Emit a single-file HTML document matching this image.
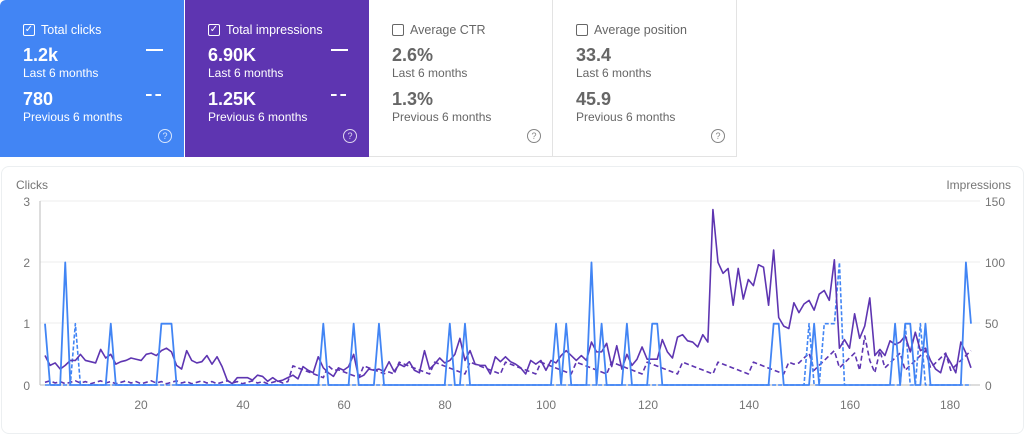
<!DOCTYPE html>
<html><head><meta charset="utf-8"><style>
body{margin:0;width:1024px;height:435px;background:#fff;font-family:"Liberation Sans",sans-serif;overflow:hidden;position:relative}
.card{position:absolute;top:0;height:157px;width:184px;box-sizing:border-box;padding:22px 0 0 23px}
.c1{left:0;background:#4285f4;color:#fff;border-radius:6px 0 0 0}
.c2{left:185px;background:#5e35b1;color:#fff}
.c3{left:369px;color:#666;border-right:1px solid #e3e3e3;border-bottom:1px solid #e3e3e3;width:184px}
.c4{left:553px;color:#666;border-right:1px solid #e3e3e3;border-bottom:1px solid #e3e3e3;width:184px}
.t{font-size:12.5px;display:flex;align-items:center;height:16px}
.cb{width:10px;height:10px;border:1px solid currentColor;border-radius:2px;margin-right:6px;font-size:10px;line-height:10px;text-align:center}
.v{font-size:18px;font-weight:bold;margin-top:7px;height:20px}
.s{font-size:12px;margin-top:1px}
.v2{margin-top:9px}
.ln{position:absolute;left:146px;width:17px;height:2px;background:currentColor}
.q{position:absolute;left:158px;top:129px;width:12px;height:12px;border:1.3px solid currentColor;border-radius:50%;font-size:9px;text-align:center;line-height:12px;opacity:.8}
.chart{position:absolute;left:1px;top:166px;width:1021px;height:266px;border:1px solid #eceff1;border-radius:8px}
</style></head><body>
<div class="card c1"><div class="t"><span class="cb">✓</span>Total clicks</div><div class="v">1.2k</div><div class="s">Last 6 months</div><div class="v v2">780</div><div class="s">Previous 6 months</div><div class="ln" style="top:49px"></div><div class="ln" style="top:94px;background:none;border-top:2px dashed #fff;height:0;width:15px"></div><div class="q">?</div></div>
<div class="card c2"><div class="t"><span class="cb">✓</span>Total impressions</div><div class="v">6.90K</div><div class="s">Last 6 months</div><div class="v v2">1.25K</div><div class="s">Previous 6 months</div><div class="ln" style="top:49px"></div><div class="ln" style="top:94px;background:none;border-top:2px dashed #fff;height:0;width:15px"></div><div class="q">?</div></div>
<div class="card c3"><div class="t"><span class="cb"></span>Average CTR</div><div class="v">2.6%</div><div class="s">Last 6 months</div><div class="v v2">1.3%</div><div class="s">Previous 6 months</div><div class="q">?</div></div>
<div class="card c4"><div class="t"><span class="cb"></span>Average position</div><div class="v">33.4</div><div class="s">Last 6 months</div><div class="v v2">45.9</div><div class="s">Previous 6 months</div><div class="q">?</div></div>
<div class="chart"></div>
<svg id="g" width="1024" height="435" style="position:absolute;left:0;top:0" font-family="Liberation Sans, sans-serif" font-size="12" fill="#757575">
<text x="16" y="189">Clicks</text><text x="1011" y="189" text-anchor="end">Impressions</text>
<line x1="40" y1="201" x2="980" y2="201" stroke="#eee"/><line x1="40" y1="262" x2="980" y2="262" stroke="#eee"/><line x1="40" y1="323" x2="980" y2="323" stroke="#eee"/><line x1="40" y1="385" x2="980" y2="385" stroke="#bbb"/>
<line x1="40" y1="201" x2="40" y2="385" stroke="#bbb"/>
<text x="30" y="206" text-anchor="end">3</text><text x="30" y="267" text-anchor="end">2</text><text x="30" y="328" text-anchor="end">1</text><text x="30" y="390" text-anchor="end">0</text>
<text x="985" y="206">150</text><text x="985" y="267">100</text><text x="985" y="328">50</text><text x="985" y="390">0</text>
<text x="141" y="409" text-anchor="middle">20</text><text x="243" y="409" text-anchor="middle">40</text><text x="344" y="409" text-anchor="middle">60</text><text x="445" y="409" text-anchor="middle">80</text><text x="546" y="409" text-anchor="middle">100</text><text x="648" y="409" text-anchor="middle">120</text><text x="749" y="409" text-anchor="middle">140</text><text x="850" y="409" text-anchor="middle">160</text><text x="950" y="409" text-anchor="middle">180</text>
</svg>
<script>
const X=d=>45+(d-1)*5.06, Yi=v=>385-v*1.227, Yc=v=>385-v*61.3;
const imp=[24,16,18,13,16,20,20,25,20,19,18,29,22,25,17,19,20,22,21,20,25,26,24,28,30,27,16,13,28,20,18,19,24,17,23,15,4,1,6,6,6,4,8,7,3,6,3,4,6,8,5,15,12,10,23,14,10,7,14,12,15,25,6,8,13,12,13,11,19,11,17,15,19,12,10,28,13,17,22,18,20,25,38,20,28,17,16,16,9,23,19,23,19,17,14,9,20,17,20,12,20,18,24,28,24,20,24,20,35,27,27,34,15,32,13,25,16,21,31,21,21,21,37,27,22,39,41,36,35,31,41,35,143,100,91,95,65,95,70,86,81,98,96,65,110,55,48,46,67,59,66,69,61,74,77,69,102,30,37,30,58,38,48,71,24,29,24,36,33,35,40,27,43,28,30,20,13,10,25,18,10,35,26,14];
const prev=[];for(let d=1;d<=184;d++){let v;if(d<50)v=1+((d*7)%5)*0.6;else if(d<150)v=6+((d*13)%7)*1.6+(d>68?3:0);else v=12+((d*11)%9)*2;prev.push(v)}
prev[57]=12;prev[162]=40;prev[164]=10;
const clk=new Array(185).fill(0);
Object.entries({1:1,5:2,14:1,24:1,25:1,26:1,56:1,62:1,67:1,81:1,84:1,102:1,104:1,109:2,111:1,116:1,121:1,122:1,145:1,146:1,153:1,169:1,171:1,172:1,175:1,183:2,184:1}).forEach(([k,v])=>clk[k]=v);
const pclk=new Array(185).fill(0);
Object.entries({7:1,152:1,155:1,156:1,157:1,158:2,171:1,174:1}).forEach(([k,v])=>pclk[k]=v);
const pl=(pts,c,w,da)=>`<polyline points="${pts}" fill="none" stroke="${c}" stroke-width="${w}" ${da?'stroke-dasharray="'+da+'"':''} stroke-linejoin="round"/>`;
let s='';
s+=pl(prev.map((v,i)=>X(i+1)+','+Yi(v)).join(' '),'#5e35b1',1.6,'5,3');
s+=pl(pclk.slice(1).map((v,i)=>X(i+1)+','+Yc(v)).join(' '),'#4285f4',1.6,'4,2');
s+=pl(imp.map((v,i)=>X(i+1)+','+Yi(v)).join(' '),'#5e35b1',1.6);
s+=pl(clk.slice(1).map((v,i)=>X(i+1)+','+Yc(v)).join(' '),'#4285f4',1.8);
document.getElementById('g').insertAdjacentHTML('beforeend',s);
</script>
</body></html>
